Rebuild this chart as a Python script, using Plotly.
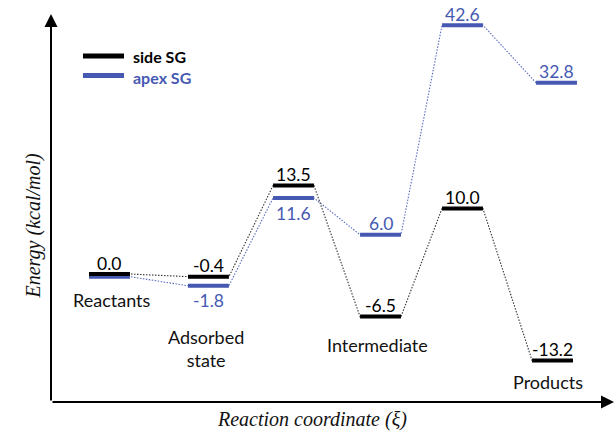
import plotly.graph_objects as go

# ---------------- data ----------------
stage_names = ["Reactants", "Adsorbed<br>state", "", "Intermediate", "", "Products"]
series_names = ["side SG", "apex SG"]
side_energy = [0.0, -0.4, 13.5, -6.5, 10.0, -13.2]      # kcal/mol (labels)
apex_energy = [0.0, -1.8, 11.6, 6.0, 42.6, 32.8]        # kcal/mol (labels)
# heights at which the levels are drawn (the diagram is compressed above ~15 kcal/mol)
side_drawn = [0.0, -0.4, 13.5, -6.5, 10.0, -13.2]
apex_drawn = [-0.4, -1.8, 11.6, 6.0, 38.0, 29.2]

# ---------------- layout / style ----------------
BLACK = "#000000"
BLUE = "#4659B2"
STAGE_X_SIDE = [0.0, 1.117, 2.077, 3.059, 3.984, 5.0]
STAGE_X_APEX = [0.0, 1.117, 2.077, 3.059, 3.984, 5.045]
HALF_W = 0.231
X_RANGE = [-0.660, 5.694]
Y_RANGE = [-19.54, 40.31]
APEX_LABEL_SIDE = [None, "below", "below", "above", "above", "above"]
SIDE_LABEL_SIDE = ["above"] * 6
NAME_POS = [(0.03, -3.97), (1.09, -11.3), None, (3.02, -10.8), None, (4.95, -16.5)]
FONT = "Lato"

fig = go.Figure()


def level_xy(xs, ys):
    lx, ly = [], []
    for x, y in zip(xs, ys):
        lx += [x - HALF_W, x + HALF_W, None]
        ly += [y, y, None]
    return lx, ly


def path_xy(xs, ys):
    px, py = [], []
    for x, y in zip(xs, ys):
        px += [x - HALF_W, x + HALF_W]
        py += [y, y]
    return px, py


for xs, ys, col in [(STAGE_X_APEX, apex_drawn, "#5a6cc0"), (STAGE_X_SIDE, side_drawn, "#333333")]:
    px, py = path_xy(xs, ys)
    fig.add_trace(go.Scatter(x=px, y=py, mode="lines", showlegend=False, hoverinfo="skip",
                             line=dict(color=col, width=1.1, dash="1.5px,1.5px")))

for xs, ys, col, nm in [(STAGE_X_APEX, apex_drawn, BLUE, series_names[1]),
                        (STAGE_X_SIDE, side_drawn, BLACK, series_names[0])]:
    lx, ly = level_xy(xs, ys)
    fig.add_trace(go.Scatter(x=lx, y=ly, mode="lines", name=nm, showlegend=False,
                             hoverinfo="skip", line=dict(color=col, width=4)))

annotations = []
# value labels
for xs, ys, vals, sides, col in [(STAGE_X_SIDE, side_drawn, side_energy, SIDE_LABEL_SIDE, BLACK),
                                 (STAGE_X_APEX, apex_drawn, apex_energy, APEX_LABEL_SIDE, BLUE)]:
    for x, y, v, s in zip(xs, ys, vals, sides):
        if s is None:
            continue
        annotations.append(dict(x=x, y=y, xref="x", yref="y", text=f"{v:.1f}", showarrow=False,
                                yanchor="middle", yshift=11 if s == "above" else -15,
                                font=dict(family=FONT, size=17.5, color=col)))
# stage names
for name, pos in zip(stage_names, NAME_POS):
    if pos is None or not name:
        continue
    annotations.append(dict(x=pos[0], y=pos[1], xref="x", yref="y", text=name, showarrow=False,
                            yanchor="middle", font=dict(family=FONT, size=18, color="#111111")))

# axis arrows
annotations.append(dict(x=0, y=0.99, xref="paper", yref="paper", ax=0, ay=388, text="",
                        showarrow=True, arrowhead=2, arrowsize=1.3, arrowwidth=2,
                        arrowcolor=BLACK, standoff=0))
annotations.append(dict(x=1.0, y=0, xref="paper", yref="paper", ax=-563, ay=0, text="",
                        showarrow=True, arrowhead=2, arrowsize=1.3, arrowwidth=2,
                        arrowcolor=BLACK, standoff=0))
# axis titles
annotations.append(dict(x=-0.055, y=0.449, xref="paper", yref="paper", text="<i>Energy (kcal/mol)</i>",
                        showarrow=False, textangle=-90,
                        font=dict(family="Liberation Serif", size=20, color="#111111")))
annotations.append(dict(x=0.4636, y=-0.079, xref="paper", yref="paper",
                        text="<i>Reaction coordinate (ξ)</i>", showarrow=False,
                        font=dict(family="Liberation Serif", size=20, color="#111111")))
# legend text (one block, two lines)
legend_text = (f"<b>{series_names[0]}</b><br>"
               f"<span style='color:{BLUE}'><b>{series_names[1]}</b></span>")
annotations.append(dict(x=0.142, y=(402 - 66.5) / 392, xref="paper", yref="paper", text=legend_text,
                        showarrow=False, xanchor="left", yanchor="middle", align="left",
                        font=dict(family=FONT, size=16, color=BLACK)))

LEG_Y1 = (402 - 56) / 392
LEG_Y2 = (402 - 75.5) / 392
shapes = [
    dict(type="line", xref="paper", yref="paper", x0=0.0568, x1=0.1297, y0=LEG_Y1, y1=LEG_Y1,
         line=dict(color=BLACK, width=5)),
    dict(type="line", xref="paper", yref="paper", x0=0.0568, x1=0.1297, y0=LEG_Y2, y1=LEG_Y2,
         line=dict(color=BLUE, width=5)),
]

fig.update_layout(
    width=616, height=441,
    margin=dict(l=51, r=2, t=10, b=39),
    paper_bgcolor="white", plot_bgcolor="white",
    xaxis=dict(range=X_RANGE, visible=False, fixedrange=True),
    yaxis=dict(range=Y_RANGE, visible=False, fixedrange=True),
    annotations=annotations, shapes=shapes,
    showlegend=False,
)

fig.write_html("out.html",
               config={"displayModeBar": False, "staticPlot": True},
               post_script="document.body.style.margin='0';document.body.style.padding='0';"
                           "document.body.style.overflow='hidden';")
